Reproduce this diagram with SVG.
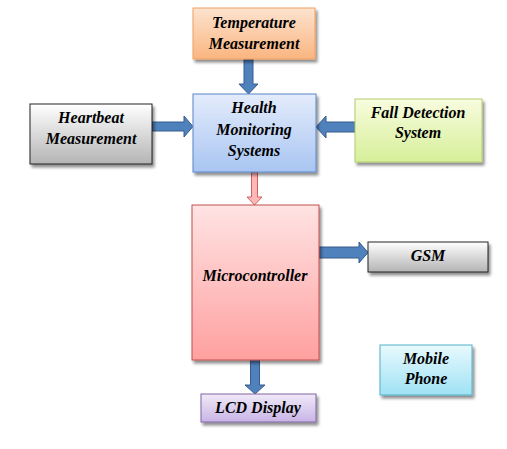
<svg xmlns="http://www.w3.org/2000/svg" width="507" height="449" viewBox="0 0 507 449">
<defs>
<filter id="sh" x="-10%" y="-10%" width="130%" height="140%">
<feGaussianBlur in="SourceAlpha" stdDeviation="1.5"/>
<feOffset dx="2" dy="3" result="b"/>
<feComponentTransfer><feFuncA type="linear" slope="0.45"/></feComponentTransfer>
<feMerge><feMergeNode/><feMergeNode in="SourceGraphic"/></feMerge>
</filter>
<linearGradient id="gOr" x1="0" y1="0" x2="0" y2="1"><stop offset="0" stop-color="#fde3cf"/><stop offset="1" stop-color="#fab580"/></linearGradient>
<linearGradient id="gGr" x1="0" y1="0" x2="0" y2="1"><stop offset="0" stop-color="#ffffff"/><stop offset="1" stop-color="#b4b4b4"/></linearGradient>
<linearGradient id="gBl" x1="0" y1="0" x2="0" y2="1"><stop offset="0" stop-color="#e3ecfb"/><stop offset="1" stop-color="#a9c5f2"/></linearGradient>
<linearGradient id="gGn" x1="0" y1="0" x2="0" y2="1"><stop offset="0" stop-color="#f8fcde"/><stop offset="1" stop-color="#d6ef99"/></linearGradient>
<linearGradient id="gPk" x1="0" y1="0" x2="0" y2="1"><stop offset="0" stop-color="#ffe3e3"/><stop offset="1" stop-color="#ffa0a0"/></linearGradient>
<linearGradient id="gCy" x1="0" y1="0" x2="0" y2="1"><stop offset="0" stop-color="#e8f9fd"/><stop offset="1" stop-color="#9fe2f5"/></linearGradient>
<linearGradient id="gPu" x1="0" y1="0" x2="0" y2="1"><stop offset="0" stop-color="#f1eaf8"/><stop offset="1" stop-color="#c8b4e6"/></linearGradient>
</defs>
<style>
text{font-family:"Liberation Serif","Times New Roman",serif;font-style:italic;font-weight:bold;font-size:16px;fill:#000;text-anchor:middle}
.box{filter:url(#sh);stroke-width:1}
.arr{fill:#4f81bd;stroke:#385d8a;stroke-width:1}
.parr{fill:#ffb8b8;stroke:#d06060;stroke-width:1}
</style>
<g id="connectors">
<path class="arr" d="M244,59 H253 V84 H258 L248.5,94 L239,84 H244 Z"/>
<path class="arr" d="M152,122 H184 V116 L193,126.5 L184,137 V131 H152 Z"/>
<path class="arr" d="M355,122 H326 V116 L316,127 L326,138 V132 H355 Z"/>
<path class="parr" d="M251.5,172 H257.5 V197 H262 L254.5,205 L247,197 H251.5 Z"/>
<path class="arr" d="M319,247 H359 V242 L368,252.5 L359,263 V258 H319 Z"/>
<path class="arr" d="M250.5,360 H259.5 V385 H265 L255,394 L245,385 H250.5 Z"/>
</g>
<g id="temperature">
<rect class="box" x="193" y="8" width="122" height="51" fill="url(#gOr)" stroke="#f0a060"/>
<text x="254" y="28">Temperature</text>
<text x="254" y="49">Measurement</text>
</g>
<g id="heartbeat">
<rect class="box" x="30" y="104" width="122" height="60" fill="url(#gGr)" stroke="#222"/>
<text x="91" y="123">Heartbeat</text>
<text x="91" y="144">Measurement</text>
</g>
<g id="health">
<rect class="box" x="193" y="94" width="123" height="78" fill="url(#gBl)" stroke="#5b86c8"/>
<text x="254" y="113">Health</text>
<text x="254" y="135">Monitoring</text>
<text x="254" y="156">Systems</text>
</g>
<g id="fall">
<rect class="box" x="355" y="99" width="127" height="63" fill="url(#gGn)" stroke="#b4cc70"/>
<text x="418" y="118">Fall Detection</text>
<text x="418" y="138">System</text>
</g>
<g id="micro">
<rect class="box" x="192" y="205" width="127" height="155" fill="url(#gPk)" stroke="#c0504d"/>
<text x="255" y="281">Microcontroller</text>
</g>
<g id="gsm">
<rect class="box" x="368" y="242" width="120" height="30" fill="url(#gGr)" stroke="#222"/>
<text x="428" y="261">GSM</text>
</g>
<g id="mobile">
<rect class="box" x="380" y="345" width="92" height="50" fill="url(#gCy)" stroke="#55b0c8"/>
<text x="426" y="364">Mobile</text>
<text x="426" y="384">Phone</text>
</g>
<g id="lcd">
<rect class="box" x="201" y="394" width="115" height="28" fill="url(#gPu)" stroke="#8064a2"/>
<text x="258" y="413">LCD Display</text>
</g>
</svg>
